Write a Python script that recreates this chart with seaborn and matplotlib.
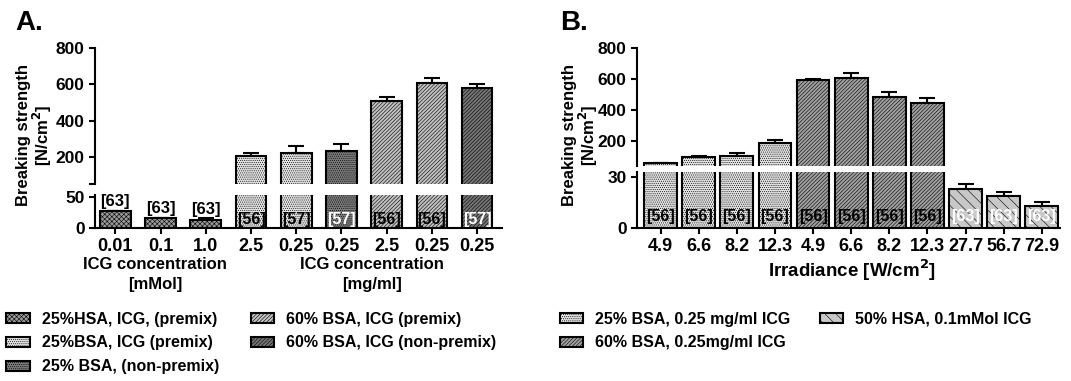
import numpy as np
import pandas as pd
import seaborn as sns
import matplotlib
matplotlib.use('Agg')
import matplotlib.pyplot as plt
from matplotlib.patches import Patch

# ---- data, panel A ----
a_labels = ['0.01', '0.1', '1.0', '2.5', '0.25', '0.25', '2.5', '0.25', '0.25']
a_values = [26.5, 16, 13.5, 203, 222, 231, 510, 605, 578]
a_errors = [0.8, 0.8, 2.5, 20, 36, 40, 18, 30, 23]
a_counts = ['[63]', '[63]', '[63]', '[56]', '[57]', '[57]', '[56]', '[56]', '[57]']
a_group = [0, 0, 0, 1, 1, 2, 3, 3, 4]
a_legend = ['25%HSA, ICG, (premix)', '25%BSA, ICG (premix)', '25% BSA, (non-premix)',
            '60% BSA, ICG (premix)', '60% BSA, ICG (non-premix)']

# ---- data, panel B ----
b_labels = ['4.9', '6.6', '8.2', '12.3', '4.9', '6.6', '8.2', '12.3', '27.7', '56.7', '72.9']
b_values = [56, 95, 105, 187, 594, 605, 482, 443, 22.8, 19, 12.9]
b_errors = [3, 6, 16, 20, 8, 32, 32, 37, 3, 1.9, 2.3]
b_counts = ['[56]'] * 8 + ['[63]'] * 3
b_group = [0, 0, 0, 0, 1, 1, 1, 1, 2, 2, 2]
b_legend = ['25% BSA, 0.25 mg/ml ICG', '60% BSA, 0.25mg/ml ICG', '50% HSA, 0.1mMol ICG']

# styles per group (fill, hatch, text colour)
a_style = [('#9a9a9a', 'xxxxxxx', 'black'), ('#e2e2e2', '........', 'black'),
           ('#7a7a7a', '........', 'white'), ('#c0c0c0', '/////////', 'black'),
           ('#747474', '/////////', 'white')]
b_style = [('#e2e2e2', '........', 'black'), ('#a0a0a0', '/////////', 'black'),
           ('#c8c8c8', '\\' * 3, 'white')]

sns.set_style('ticks')
plt.rcParams['font.family'] = ['Liberation Sans', 'DejaVu Sans']
plt.rcParams['font.weight'] = 'bold'
plt.rcParams['hatch.linewidth'] = 0.4
plt.rcParams['axes.linewidth'] = 1.5
for key in ('text.color', 'axes.labelcolor', 'xtick.color', 'ytick.color', 'axes.edgecolor'):
    plt.rcParams[key] = 'black'


def draw_bars(ax, values, errors, groups, style, width, ylim):
    df = pd.DataFrame({'bar': [str(i) for i in range(len(values))], 'value': values})
    sns.barplot(data=df, x='bar', y='value', color='white', width=width,
                errorbar=None, ax=ax, zorder=3)
    for p, g in zip(ax.patches, groups):
        p.set_facecolor(style[g][0])
        p.set_hatch(style[g][1])
        p.set_edgecolor('black')
        p.set_linewidth(1.5)
    # only the error bars whose bar top lies in this part of the broken axis
    keep = [i for i, v in enumerate(values) if ylim[0] < v < ylim[1]]
    ax.errorbar(keep, [values[i] for i in keep],
                yerr=[np.zeros(len(keep)), [errors[i] for i in keep]], fmt='none',
                ecolor='black', elinewidth=1.5, capsize=6, capthick=1.5, zorder=2)
    ax.set_xlabel('')
    ax.set_ylabel('')
    ax.tick_params(axis='both', width=1.5, length=4, labelsize=12.5)
    ax.tick_params(axis='x', labelsize=13)


def broken_panel(fig, box_up, box_low, labels, values, errors, groups, style, width,
                 up_lim, low_lim, up_ticks, low_ticks, xlim):
    ax_up = fig.add_axes(box_up)
    ax_low = fig.add_axes(box_low)
    for ax, lim in ((ax_up, up_lim), (ax_low, low_lim)):
        draw_bars(ax, values, errors, groups, style, width, lim)
        ax.set_xlim(xlim)
        ax.set_ylim(lim)
        sns.despine(ax=ax)
    ax_up.set_yticks(up_ticks[0], labels=up_ticks[1])
    ax_up.spines['bottom'].set_visible(False)
    ax_up.tick_params(axis='x', bottom=False, labelbottom=False)
    ax_low.set_yticks(low_ticks)
    ax_low.set_xticks(range(len(labels)), labels=labels)
    return ax_up, ax_low


fig = plt.figure(figsize=(10.71, 3.81), dpi=100)

# panel A
a_up, a_low = broken_panel(fig, [0.0887, 0.5165, 0.38, 0.3575], [0.0887, 0.4016, 0.38, 0.0866],
                           a_labels, a_values, a_errors, a_group, a_style, 0.68,
                           (50, 800), (0, 53),
                           ([50, 200, 400, 600, 800], ['', '200', '400', '600', '800']),
                           [0, 50], (-0.45, 8.55))
for i, (v, c, g) in enumerate(zip(a_values, a_counts, a_group)):
    if v < 50:
        a_low.text(i, v + 4, c, ha='center', va='bottom', fontsize=12)
    else:
        a_low.text(i, 14, c, ha='center', va='center', fontsize=11.5,
                   color=a_style[g][2], zorder=5)

# panel B
b_up, b_low = broken_panel(fig, [0.5948, 0.565, 0.395, 0.309], [0.5948, 0.4016, 0.395, 0.1477],
                           b_labels, b_values, b_errors, b_group, b_style, 0.86,
                           (40, 800), (0, 33),
                           ([200, 400, 600, 800], ['200', '400', '600', '800']),
                           [0, 30], (-0.62, 10.48))
for i, (c, g) in enumerate(zip(b_counts, b_group)):
    b_low.text(i, 6.5, c, ha='center', va='center', fontsize=11.5,
               color=b_style[g][2], zorder=5)

# labels
fig.text(0.014, 0.94, 'A.', fontsize=20, fontweight='bold', va='center')
fig.text(0.523, 0.94, 'B.', fontsize=20, fontweight='bold', va='center')
for xpos in (0.033, 0.5425):
    fig.text(xpos, 0.645, 'Breaking strength\n[N/cm$^\\mathbf{2}$]', rotation=90,
             ha='center', va='center', fontsize=12, linespacing=1.0)
fig.text(155 / 1071, 0.28, 'ICG concentration\n[mMol]', ha='center', va='center',
         fontsize=12, linespacing=1.4)
fig.text(372 / 1071, 0.28, 'ICG concentration\n[mg/ml]', ha='center', va='center',
         fontsize=12, linespacing=1.4)
fig.text(852 / 1071, 0.29, 'Irradiance [W/cm$^\\mathbf{2}$]', ha='center', va='center',
         fontsize=13.5)


# legends
def make_handles(style):
    return [Patch(facecolor=s[0], hatch=s[1], edgecolor='black', linewidth=1.5) for s in style]


leg_kw = dict(loc='upper left', frameon=False, ncol=2, fontsize=11.5, handlelength=1.45,
              handleheight=0.6, handletextpad=0.75, labelspacing=0.55, borderpad=0,
              borderaxespad=0)
fig.legend(make_handles(a_style), a_legend, bbox_to_anchor=(0.006, 0.182),
           columnspacing=2.0, **leg_kw)
fig.legend(make_handles(b_style), b_legend, bbox_to_anchor=(0.523, 0.182),
           columnspacing=1.85, **leg_kw)

fig.savefig('out.png', dpi=100)
